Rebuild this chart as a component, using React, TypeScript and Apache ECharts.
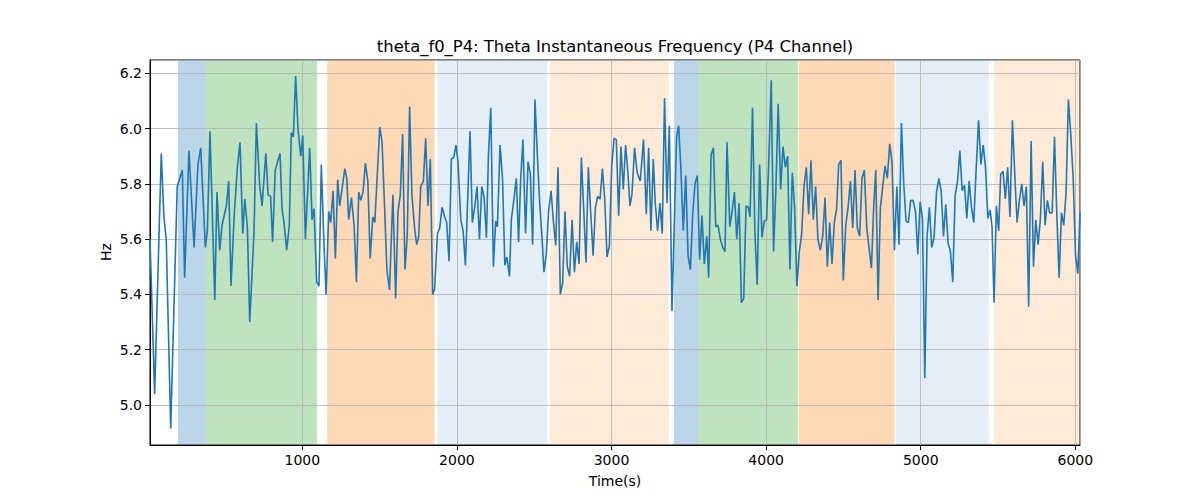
import { useEffect, useRef } from 'react';
import * as echarts from 'echarts';

// time stamps (s) and instantaneous theta frequency (Hz)
const times = [
  15, 45, 88, 105, 120, 149, 191, 224, 239, 267, 300, 325, 343, 373, 386, 403, 434, 448, 466, 481,
  509, 524, 539, 559, 580, 597, 615, 628, 645, 660, 688, 703, 725, 740, 764, 779,
  795, 808, 825, 856, 869, 882, 899, 916, 929, 942, 957, 972, 990, 1003, 1020, 1048, 1063, 1076, 1093,
  1108, 1123, 1141, 1154, 1171, 1184, 1199, 1214, 1229, 1242, 1257, 1275, 1288, 1300, 1318, 1335, 1350,
  1365, 1378, 1393, 1408, 1424, 1439, 1456, 1469, 1501, 1516, 1534, 1547, 1564,
  1586, 1604, 1619, 1634, 1649, 1664, 1679, 1694, 1709, 1727, 1740, 1753, 1766, 1783, 1798, 1813, 1828,
  1843, 1856, 1874, 1889, 1904, 1921, 1934, 1949, 1964, 1979, 1994, 2007, 2025, 2040, 2055, 2085, 2100,
  2115, 2130, 2146, 2161, 2176, 2191, 2204, 2219, 2236, 2251, 2262, 2279, 2295, 2310, 2323, 2340,
  2352, 2369, 2384, 2399, 2412, 2427, 2444, 2460, 2475, 2490, 2505, 2520, 2535, 2550, 2563, 2578, 2593,
  2609, 2624, 2639, 2654, 2669, 2684, 2699, 2714, 2729, 2745, 2760, 2775, 2790, 2805, 2820, 2835, 2850,
  2865, 2881, 2896, 2911, 2926, 2941, 2956, 2971, 2986, 3001, 3016, 3031, 3046, 3061, 3076, 3091, 3106, 3119,
  3132, 3149, 3166, 3186, 3207, 3225, 3240, 3255, 3270, 3283, 3298, 3313, 3328, 3343, 3359, 3374, 3391,
  3421, 3434, 3449, 3464, 3480, 3495, 3510, 3525, 3540, 3555, 3570, 3585, 3600, 3616, 3628, 3644, 3659,
  3674, 3689, 3704, 3719, 3734, 3747, 3765, 3780, 3795, 3810, 3825, 3840, 3855, 3870, 3885, 3896,
  3912, 3927, 3942, 3958, 3973, 3988, 4003, 4018, 4033, 4048, 4063, 4078, 4094, 4109, 4124, 4139, 4154,
  4169, 4184, 4199, 4214, 4230, 4245, 4260, 4275, 4290, 4305, 4320, 4335, 4350, 4366, 4381, 4396, 4411,
  4426, 4441, 4456, 4469, 4484, 4499, 4515, 4530, 4545, 4560, 4575, 4590, 4605, 4620, 4635, 4651,
  4681, 4696, 4709, 4724, 4739, 4754, 4769, 4784, 4799, 4814, 4830, 4845, 4860, 4875, 4890, 4905, 4920,
  4935, 4950, 4966, 4981, 4996, 5011, 5026, 5041, 5056, 5071, 5086, 5102, 5117, 5132, 5147, 5162, 5177,
  5192, 5207, 5222, 5238, 5253, 5268, 5283, 5298, 5313, 5328, 5343, 5358, 5374, 5389, 5404, 5419, 5434, 5449,
  5461, 5474, 5489, 5504, 5517, 5532, 5547, 5562, 5577, 5593, 5608, 5623, 5638, 5653, 5668, 5683, 5698,
  5714, 5729, 5744, 5759, 5774, 5789, 5804, 5819, 5834, 5850, 5865, 5880, 5895, 5910, 5925, 5940, 5955,
  5970, 5986, 6001, 6016, 6030,
];

const hz = [
  5.60, 5.04, 5.91, 5.68, 5.60, 4.915, 5.79, 5.85, 5.46, 5.92, 5.57, 5.87, 5.93, 5.57, 5.63, 5.99, 5.38, 5.77, 5.56, 5.65,
  5.72, 5.81, 5.43, 5.68, 5.86, 5.95, 5.62, 5.745, 5.64, 5.30, 5.63, 6.02, 5.79, 5.72, 5.91, 5.76,
  5.755, 5.59, 5.85, 5.91, 5.71, 5.66, 5.56, 5.65, 5.985, 5.97, 6.19, 6.00, 5.90, 5.975, 5.60, 5.93, 5.67, 5.71, 5.445,
  5.43, 5.87, 5.57, 5.40, 5.70, 5.66, 5.775, 5.53, 5.815, 5.72, 5.78, 5.855, 5.82, 5.67, 5.75, 5.65, 5.445,
  5.77, 5.74, 5.77, 5.875, 5.81, 5.53, 5.68, 5.66, 6.005, 5.95, 5.69, 5.49, 5.415,
  5.76, 5.385, 5.70, 5.76, 5.98, 5.49, 5.615, 6.08, 5.76, 5.635, 5.58, 5.61, 5.79, 5.81, 5.965, 5.72, 5.89,
  5.40, 5.42, 5.62, 5.64, 5.715, 5.68, 5.66, 5.52, 5.89, 5.895, 5.94, 5.88, 5.67, 5.63, 5.505, 5.99, 5.66,
  5.715, 5.79, 5.60, 5.79, 5.75, 5.605, 5.905, 6.075, 5.50, 5.665, 5.645, 5.94, 5.82, 5.505, 5.535, 5.465,
  5.67, 5.745, 5.82, 5.59, 5.81, 5.96, 5.62, 5.88, 5.835, 5.58, 6.105, 5.905, 5.735, 5.61, 5.48, 5.545, 5.70,
  5.775, 5.665, 5.577, 5.86, 5.40, 5.44, 5.70, 5.50, 5.465, 5.67, 5.48, 5.59, 5.51, 5.895, 5.71, 5.515, 5.86,
  5.70, 5.54, 5.715, 5.755, 5.745, 5.855, 5.745, 5.535, 5.575, 5.86, 5.965, 5.96, 5.685, 5.935, 5.78, 5.94, 5.84, 5.72,
  5.76, 5.93, 5.84, 5.81, 5.96, 5.69, 5.93, 5.63, 5.89, 5.73, 5.63, 5.73, 5.62, 6.11, 5.73, 6.01, 5.34,
  5.97, 6.01, 5.85, 5.63, 5.83, 5.54, 5.49, 5.69, 5.80, 5.83, 5.525, 5.685, 5.51, 5.61, 5.46, 5.905, 5.93,
  5.645, 5.65, 5.60, 5.57, 5.555, 5.95, 5.645, 5.70, 5.77, 5.60, 5.73, 5.37, 5.385, 5.72, 5.715, 5.68,
  6.075, 5.63, 5.435, 5.87, 5.605, 5.665, 5.67, 5.895, 6.175, 5.555, 5.78, 6.09, 5.78, 5.935, 5.86, 5.90, 5.49,
  5.84, 5.715, 5.43, 5.55, 5.62, 5.79, 5.86, 5.69, 5.885, 5.67, 5.79, 5.60, 5.56, 5.61, 5.75, 5.50, 5.66,
  5.51, 5.66, 5.71, 5.87, 5.885, 5.45, 5.65, 5.715, 5.81, 5.64, 5.85, 5.64, 5.61, 5.82, 5.85, 5.64,
  5.495, 5.72, 5.85, 5.38, 5.715, 5.79, 5.865, 5.82, 5.945, 5.88, 5.56, 5.79, 5.58, 6.02, 5.80, 5.665, 5.66,
  5.74, 5.74, 5.70, 5.545, 5.735, 5.675, 5.097, 5.61, 5.715, 5.57, 5.605, 5.77, 5.82, 5.775, 5.61, 5.725, 5.585,
  5.555, 5.445, 5.755, 5.81, 5.92, 5.775, 5.795, 5.675, 5.81, 5.715, 5.66, 5.85, 6.03, 5.87, 5.94, 5.86, 5.675, 5.705,
  5.645, 5.37, 5.72, 5.63, 5.835, 5.845, 5.745, 5.86, 5.68, 6.03, 5.835, 5.66, 5.74, 5.80, 5.72, 5.79, 5.355,
  5.955, 5.50, 5.67, 5.58, 5.675, 5.88, 5.65, 5.74, 5.695, 5.695, 5.97, 5.69, 5.46, 5.695, 5.65, 5.77, 6.105,
  5.98, 5.82, 5.54, 5.475, 5.695,
];

// shaded segments: start, end (s) and colour kind
const bandStart = [196, 375, 1161, 1873, 2602, 3404, 3564, 4211, 4840, 5474];
const bandEnd = [375, 1095, 1856, 2585, 3370, 3564, 4206, 4832, 5440, 6030];
const bandKind = ['blue', 'green', 'orange', 'lightblue', 'lightorange', 'blue', 'green', 'orange', 'lightblue', 'lightorange'];

const bandColors: Record<string, string> = {
  blue: 'rgba(31,119,180,0.3)',
  green: 'rgba(44,160,44,0.3)',
  orange: 'rgba(255,127,14,0.3)',
  lightblue: 'rgba(31,119,180,0.12)',
  lightorange: 'rgba(255,127,14,0.16)',
};

const FONT = 'DejaVu Sans';

export default function App() {
  const chartRef = useRef<HTMLDivElement>(null);

  useEffect(() => {
    if (!chartRef.current) return;
    const chart = echarts.init(chartRef.current, undefined, { renderer: 'svg' });

    const bandData = bandStart.map((s, i) => [s, bandEnd[i], i]);

    const option = {
      animation: false,
      backgroundColor: '#fff',
      textStyle: { fontFamily: FONT },
      grid: { left: 150, right: 120, top: 60, bottom: 55, show: true, borderColor: '#000', borderWidth: 1 },
      xAxis: {
        type: 'value',
        z: 2,
        min: 15,
        max: 6030,
        splitNumber: 6,
        axisLine: { show: true, lineStyle: { color: '#000', width: 1 } },
        axisTick: { show: true, length: 5, lineStyle: { color: '#000' } },
        axisLabel: {
          color: '#000',
          fontSize: 14,
          fontFamily: FONT,
          margin: 8,
          showMinLabel: false,
          showMaxLabel: false,
          formatter: (v: number) => (Math.abs(v % 1000) < 1e-6 ? String(v) : ''),
        },
        splitLine: { show: true, lineStyle: { color: '#b0b0b0', width: 0.8 } },
      },
      yAxis: {
        type: 'value',
        z: 2,
        min: 4.855,
        max: 6.248,
        splitNumber: 7,
        axisLine: { show: true, lineStyle: { color: '#000', width: 1 } },
        axisTick: { show: true, length: 5, lineStyle: { color: '#000' } },
        axisLabel: {
          color: '#000',
          fontSize: 14,
          fontFamily: FONT,
          margin: 8,
          showMinLabel: false,
          showMaxLabel: false,
          formatter: (v: number) => (Math.abs(v * 5 - Math.round(v * 5)) < 1e-6 ? v.toFixed(1) : ''),
        },
        splitLine: { show: true, lineStyle: { color: '#b0b0b0', width: 0.8 } },
      },
      graphic: [
        {
          type: 'text',
          x: 615,
          y: 46,
          style: {
            text: 'theta_f0_P4: Theta Instantaneous Frequency (P4 Channel)',
            font: `16.4px "${FONT}"`,
            fill: '#000',
            align: 'center',
            verticalAlign: 'middle',
            textAlign: 'center',
            textVerticalAlign: 'middle',
          },
        },
        {
          type: 'text',
          x: 615,
          y: 481,
          style: {
            text: 'Time(s)',
            font: `14px "${FONT}"`,
            fill: '#000',
            align: 'center',
            verticalAlign: 'middle',
            textAlign: 'center',
            textVerticalAlign: 'middle',
          },
        },
        {
          type: 'text',
          x: 106,
          y: 252,
          rotation: Math.PI / 2,
          style: {
            text: 'Hz',
            font: `14px "${FONT}"`,
            fill: '#000',
            align: 'center',
            verticalAlign: 'middle',
            textAlign: 'center',
            textVerticalAlign: 'middle',
          },
        },
      ],
      series: [
        {
          type: 'custom',
          z: 1,
          silent: true,
          data: bandData,
          encode: { x: [0, 1] },
          renderItem: (params: any, api: any) => {
            const x0 = api.coord([api.value(0), 0])[0];
            const x1 = api.coord([api.value(1), 0])[0];
            const cs = params.coordSys;
            const kind = bandKind[api.value(2)];
            return {
              type: 'rect',
              shape: { x: x0, y: cs.y, width: x1 - x0, height: cs.height },
              style: { fill: bandColors[kind] },
            };
          },
        },
        {
          type: 'line',
          z: 3,
          showSymbol: false,
          data: times.map((t, i) => [t, hz[i]]),
          lineStyle: { color: '#1f77b4', width: 1.6 },
          itemStyle: { color: '#1f77b4' },
        },
      ],
    };

    chart.setOption(option);
    return () => {
      chart.dispose();
    };
  }, []);

  return (
    <div
      ref={chartRef}
      style={{ position: 'fixed', left: 0, top: 0, width: '1200px', height: '500px', background: '#fff' }}
    />
  );
}
